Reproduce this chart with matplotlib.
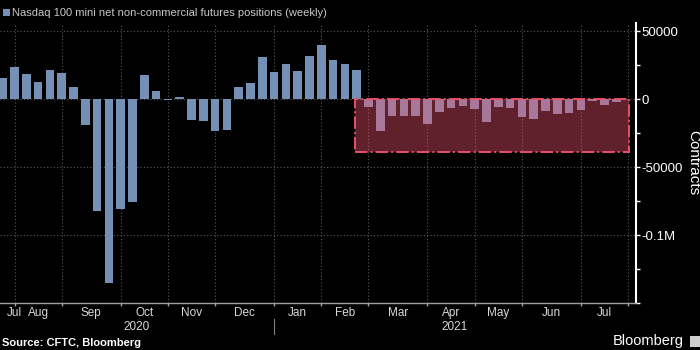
import numpy as np
import pandas as pd
import matplotlib
matplotlib.use("Agg")
import matplotlib.pyplot as plt
from matplotlib.patches import Rectangle
from matplotlib import transforms
from matplotlib.ticker import FixedLocator, FuncFormatter

plt.rcParams['font.family'] = ['Liberation Sans', 'DejaVu Sans']

# weekly CFTC report dates (Tuesdays)
dates = pd.date_range('2020-07-28', '2021-07-27', freq='7D')
positions = [15700, 23900, 18400, 12700, 21400, 19400, 8700, -18700, -82000,
             -135500, -80600, -75900, 17900, 6000, -800, 1200, -15700, -16400,
             -23100, -22400, 9000, 11900, 31300, 20100, 25900, 20600, 31600,
             39500, 29100, 25900, 21400, -5500, -23400, -12200, -12200, -12400,
             -18400, -9200, -6200, -5000, -7500, -16900, -6000, -6500, -13200,
             -14700, -8500, -11000, -10400, -8000, -1200, -4000, -2200]
months = ['Jul', 'Aug', 'Sep', 'Oct', 'Nov', 'Dec', 'Jan', 'Feb', 'Mar',
          'Apr', 'May', 'Jun', 'Jul']
years = ['2020', '2021']
highlight_start = '2021-02-22'
highlight_low = -38800

bar_col = '#7490b5'
grid_col = '#5a5a5a'
text_col = '#d8d8d8'

x = np.arange(len(dates))

# first report of each month -> week index (gridlines / ticks)
month_starts = pd.date_range('2020-08-01', '2021-08-01', freq='MS')
first_tue = [d + pd.Timedelta(days=(1 - d.weekday()) % 7) for d in month_starts]
grid_idx = [(d - dates[0]).days / 7 for d in first_tue]

fig = plt.figure(figsize=(7, 3.5), dpi=100, facecolor='black')
ax = fig.add_axes([0.0, 1 - 303 / 350, 636 / 700, 280 / 350])
ax.set_facecolor('black')

ax.bar(x, positions, width=0.74, color=bar_col, zorder=2)

xl = (-0.229, 53.67)
ax.set_xlim(*xl)
ax.set_ylim(-150000, 56000)

for g in grid_idx:
    ax.axvline(g, color=grid_col, lw=0.8, ls=(0, (1, 2)), zorder=1)
for yv in [50000, 0, -50000, -100000]:
    ax.axhline(yv, color=grid_col, lw=0.8, ls=(0, (1, 2)), zorder=1)

# highlighted region
hx0 = (pd.Timestamp(highlight_start) - dates[0]).days / 7
hx1 = 53.1
ax.add_patch(Rectangle((hx0, highlight_low), hx1 - hx0, -highlight_low,
                       facecolor='#f55570', alpha=0.4, edgecolor='none', zorder=3))
ax.add_patch(Rectangle((hx0, highlight_low), hx1 - hx0, -highlight_low,
                       fill=False, edgecolor='#e8506a', lw=1.4, ls='-.', zorder=4))

# y axis on the right
for s in ['left', 'top']:
    ax.spines[s].set_visible(False)
ax.spines['right'].set_color('white')
ax.spines['right'].set_linewidth(1.5)
ax.spines['bottom'].set_color('#a0a0a0')
ax.spines['bottom'].set_linewidth(1)
ax.yaxis.tick_right()
ax.yaxis.set_major_locator(FixedLocator([50000, 0, -50000, -100000, -150000]))
ax.yaxis.set_minor_locator(FixedLocator([25000, -25000, -75000, -125000]))


def fmt(v, pos):
    if v <= -150000:
        return ''
    if abs(v) >= 100000:
        return '%gM' % (v / 1e6)
    return '%d' % v


ax.yaxis.set_major_formatter(FuncFormatter(fmt))
ax.tick_params(axis='y', which='both', colors='white', labelcolor='white',
               labelsize=9.5, length=3, width=1, pad=1)
ax.set_xticks(grid_idx)
ax.set_xticklabels([])
ax.tick_params(axis='x', colors='#a0a0a0', length=2.5, width=1)

fig.text(693 / 700, 1 - 163 / 350, 'Contracts', color='white', fontsize=11,
         rotation=-90, ha='center', va='center')

# month and year labels below the axis
tr = transforms.blended_transform_factory(ax.transData, fig.transFigure)
label_x = [grid_idx[0]] + [(grid_idx[i] + grid_idx[i + 1]) / 2
                           for i in range(len(grid_idx) - 1)]
for m, lx in zip(months, label_x):
    ax.text(lx, 1 - 313 / 350, m, transform=tr, color=text_col, fontsize=8.5,
            ha='center', va='center', clip_on=False)
sep = grid_idx[5]
ax.plot([sep, sep], [1 - 319 / 350, 1 - 334 / 350], transform=tr,
        color='#808080', lw=0.8, clip_on=False)
ax.text((xl[0] + sep) / 2, 1 - 327 / 350, years[0], transform=tr,
        color=text_col, fontsize=8.5, ha='center', va='center', clip_on=False)
ax.text((sep + xl[1]) / 2, 1 - 327 / 350, years[1], transform=tr,
        color=text_col, fontsize=8.5, ha='center', va='center', clip_on=False)

# legend style title
fig.patches.append(Rectangle((3.3 / 700, 1 - 15.7 / 350), 6.7 / 700, 6.7 / 350,
                             transform=fig.transFigure, facecolor=bar_col,
                             edgecolor='none'))
fig.text(12.5 / 700, 1 - 12.5 / 350,
         'Nasdaq 100 mini net non-commercial futures positions (weekly)',
         color='#c8c8c8', fontsize=8, ha='left', va='center')

fig.text(2 / 700, 1 - 343 / 350, 'Source: CFTC, Bloomberg', color='white',
         fontsize=8, fontweight='bold', ha='left', va='center')
fig.text(684 / 700, 1 - 341 / 350, 'Bloomberg', color='white', fontsize=10.5,
         fontweight='medium', ha='right', va='center')
fig.patches.append(Rectangle((690 / 700, 1 - 347 / 350), 10 / 700, 11 / 350,
                             transform=fig.transFigure, facecolor='#cfcfcf',
                             edgecolor='none'))

fig.savefig('out.png', dpi=100, facecolor='black')
